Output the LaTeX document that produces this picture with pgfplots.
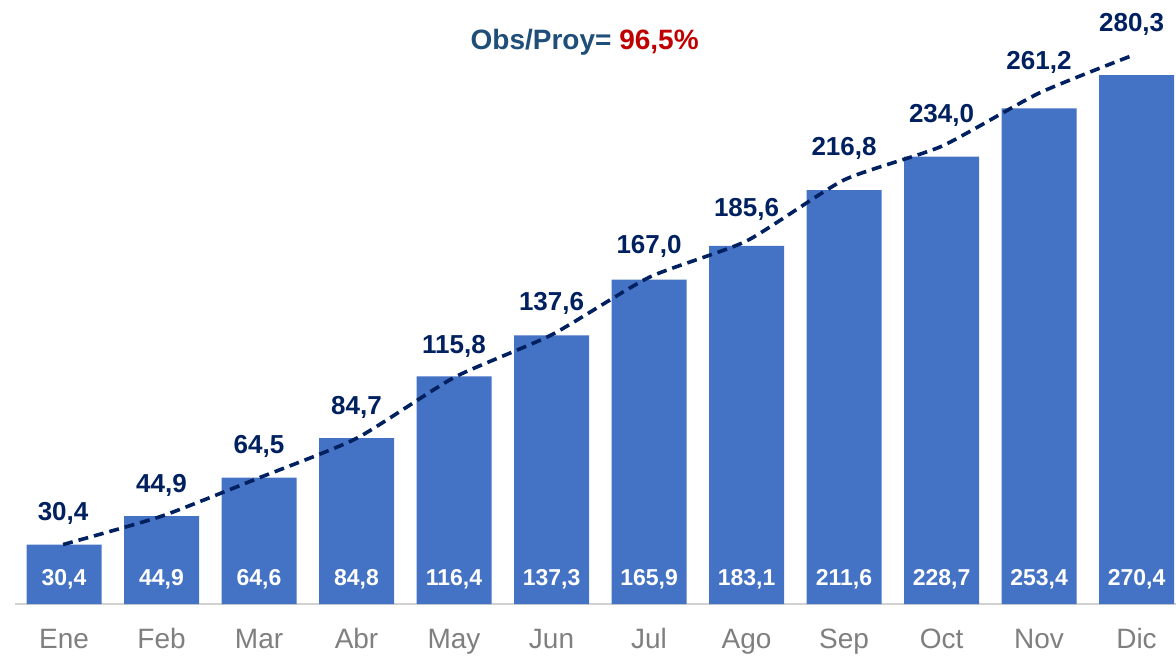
\documentclass[border=0pt]{standalone}
\usepackage{pgfplots}
\pgfplotsset{compat=1.18}
\usepackage{fontspec}
\setmainfont{Liberation Sans}
\definecolor{barblue}{HTML}{4472C4}
\definecolor{navy}{HTML}{002060}
\definecolor{titleblue}{HTML}{1F4E79}
\definecolor{redv}{HTML}{C00000}
\definecolor{tickgray}{HTML}{7F7F7F}
\begin{document}
\begin{tikzpicture}
\useasboundingbox (-7.5pt,-25.5pt) rectangle (580.5pt,302pt);
\begin{axis}[
  scale only axis,
  width=580.5pt, height=302pt,
  xmin=-0.503, xmax=11.405,
  ymin=0, ymax=308.8,
  axis y line=none,
  axis x line*=bottom,
  x axis line style={draw=black!18, line width=1pt, -},
  xtick={0,...,11},
  xticklabels={Ene,Feb,Mar,Abr,May,Jun,Jul,Ago,Sep,Oct,Nov,Dic},
  major tick length=0pt,
  xticklabel style={font=\fontsize{14}{16}\selectfont, text=tickgray, inner sep=0pt, anchor=base, yshift=-22pt},
  clip=false,
]
\addplot[ybar, bar width=37.5pt, fill=barblue, draw=none] coordinates {
  (0,30.4) (1,44.9) (2,64.6) (3,84.8) (4,116.4) (5,137.3)
  (6,165.9) (7,183.1) (8,211.6) (9,228.7) (10,253.4) (11,270.4)
};
\addplot[draw=none, mark=none,
  nodes near coords, point meta=explicit symbolic,
  every node near coord/.append style={font=\bfseries\fontsize{11.5}{13}\selectfont, text=white, anchor=base, inner sep=0pt, yshift=9.4pt}]
  coordinates {
  (0,0)[30,4] (1,0)[44,9] (2,0)[64,6] (3,0)[84,8] (4,0)[116,4] (5,0)[137,3]
  (6,0)[165,9] (7,0)[183,1] (8,0)[211,6] (9,0)[228,7] (10,0)[253,4] (11,0)[270,4]
};
\addplot[navy, line width=1.8pt, dash pattern=on 5pt off 3pt, smooth, tension=0.35, mark=none,
  nodes near coords, point meta=explicit symbolic,
  every node near coord/.append style={font=\bfseries\fontsize{13}{15}\selectfont, text=navy, anchor=base, inner sep=0pt, yshift=12pt}]
  coordinates {
  (-0.01,30.4)[30,4] (1,44.9)[44,9] (2,64.5)[64,5] (3,84.7)[84,7] (4,115.8)[115,8] (5,137.6)[137,6]
  (6,167.0)[167,0] (7,185.6)[185,6] (8,216.8)[216,8] (9,234.0)[234,0] (10,261.2)[261,2] (10.95,280.3)[280,3]
};
\node[font=\bfseries\fontsize{14}{16}\selectfont, text=titleblue, anchor=center] at (axis cs:5.34,287) {Obs/Proy= \textcolor{redv}{96,5\%}};
\end{axis}
\end{tikzpicture}
\end{document}
